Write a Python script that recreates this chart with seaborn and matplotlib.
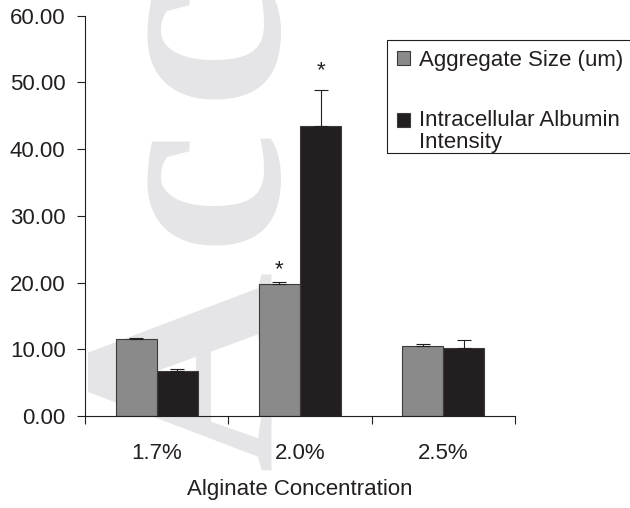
import matplotlib
matplotlib.use("Agg")
import matplotlib.pyplot as plt
import seaborn as sns
import pandas as pd
from matplotlib.patches import Patch, Rectangle
from matplotlib.legend_handler import HandlerPatch

# ---- data ----
concentrations = ["1.7%", "2.0%", "2.5%"]
series_names = ["Aggregate Size (um)", "Intracellular Albumin\nIntensity"]
aggregate_size = [11.5, 19.8, 10.5]
aggregate_err = [0.25, 0.3, 0.25]
albumin_intensity = [6.8, 43.4, 10.2]
albumin_err = [0.3, 5.4, 1.2]
aggregate_sig = [False, True, False]
albumin_sig = [False, True, False]
y_ticks = [0, 10, 20, 30, 40, 50, 60]
x_label = "Alginate Concentration"

# ---- style ----
sns.set_theme(style="white")
plt.rcParams['font.family'] = ['Liberation Sans', 'DejaVu Sans']
plt.rcParams['font.size'] = 16
ink = "#231f20"
colors = ["#8a8a8b", "#231f20"]
wm_color = "#e5e5e7"

df = pd.DataFrame({
    "Concentration": concentrations * 2,
    "Series": [series_names[0]] * len(concentrations) + [series_names[1]] * len(concentrations),
    "Value": aggregate_size + albumin_intensity,
})

W, H = 630, 508
fig = plt.figure(figsize=(W / 100, H / 100), dpi=100)
fig.patch.set_facecolor("white")

# watermark (light serif letters behind the chart)
wm_kw = dict(rotation=90, rotation_mode="anchor", ha="center", va="baseline",
             fontsize=200, fontweight="bold", color=wm_color,
             family=["Liberation Serif", "DejaVu Serif"], zorder=-5)
fig.text(270 / W, 1 - 370 / H, "A", **wm_kw)
fig.text(270 / W, 1 - 183 / H, "c", **wm_kw)
fig.text(270 / W, 1 - 37 / H, "c", **wm_kw)

ax = fig.add_axes([85 / W, 1 - 416 / H, 430 / W, 400.3 / H])
ax.patch.set_alpha(0)

sns.barplot(data=df, x="Concentration", y="Value", hue="Series",
            palette=colors, saturation=1, width=0.573, dodge=True,
            edgecolor="#3c3c3c", linewidth=0.8, errorbar=None,
            legend=False, ax=ax, zorder=2)

# error bars (upper only) and significance stars
errs = [aggregate_err, albumin_err]
sigs = [aggregate_sig, albumin_sig]
star_offsets = [5.0, 10.5]  # points above error cap
for cont, err, sig, off in zip(ax.containers, errs, sigs, star_offsets):
    xs = [b.get_x() + b.get_width() / 2 for b in cont]
    ys = [b.get_height() for b in cont]
    ax.errorbar(xs, ys, yerr=[[0] * len(err), err], fmt="none", ecolor=ink,
                elinewidth=0.8, capsize=5, capthick=0.8, zorder=3)
    for x, y, e, s in zip(xs, ys, err, sig):
        if s:
            ax.annotate("*", xy=(x, y + e), xytext=(0, off), textcoords="offset points",
                        ha="center", va="baseline", fontsize=16, color=ink)

# axes formatting
ax.set_xlim(-0.5, len(concentrations) - 0.5)
ax.set_ylim(y_ticks[0], y_ticks[-1])
ax.set_yticks(y_ticks)
ax.set_yticklabels([f"{v:.2f}" for v in y_ticks])
ax.set_xticks([i - 0.5 for i in range(len(concentrations) + 1)])
ax.set_xticklabels([])
ax.set_xticks(range(len(concentrations)), labels=concentrations, minor=True)
ax.tick_params(axis="x", which="major", direction="out", length=6, width=0.8,
               color=ink, bottom=True)
ax.tick_params(axis="x", which="minor", length=0, pad=19.5, labelsize=16,
               labelcolor=ink, bottom=True)
ax.tick_params(axis="y", which="major", direction="out", length=6, width=0.8,
               color=ink, pad=8, labelsize=16, labelcolor=ink, left=True)
for side in ["top", "right"]:
    ax.spines[side].set_visible(False)
for side in ["left", "bottom"]:
    ax.spines[side].set_color(ink)
    ax.spines[side].set_linewidth(0.8)
ax.set_xlabel(x_label, fontsize=16, color=ink, labelpad=11)
ax.set_ylabel("")
ax.grid(False)

# legend (frame drawn separately: it runs past the right edge in the reference)
def raised_square(legend, orig_handle, xdescent, ydescent, width, height, fontsize):
    return Rectangle((-xdescent, -ydescent + 0.525 * fontsize), width, height)

handles = [Patch(facecolor=c, edgecolor="#3c3c3c", linewidth=0.8) for c in colors]
leg = ax.legend(handles, series_names, loc="upper left",
                bbox_to_anchor=(387 / W, 1 - 40 / H),
                bbox_transform=fig.transFigure, borderaxespad=0,
                frameon=False, fontsize=16, handlelength=0.6, handleheight=0.6,
                handletextpad=0.4, labelspacing=1.78, borderpad=0.44,
                handler_map={handles[1]: HandlerPatch(patch_func=raised_square)})
for t in leg.get_texts():
    t.set_color(ink)
    t.set_linespacing(1.05)
fig.add_artist(Rectangle((387 / W, 1 - 153 / H), (650 - 387) / W, 113 / H,
                         transform=fig.transFigure, fill=False,
                         edgecolor=ink, linewidth=0.8))

fig.savefig("out.png", dpi=100)
